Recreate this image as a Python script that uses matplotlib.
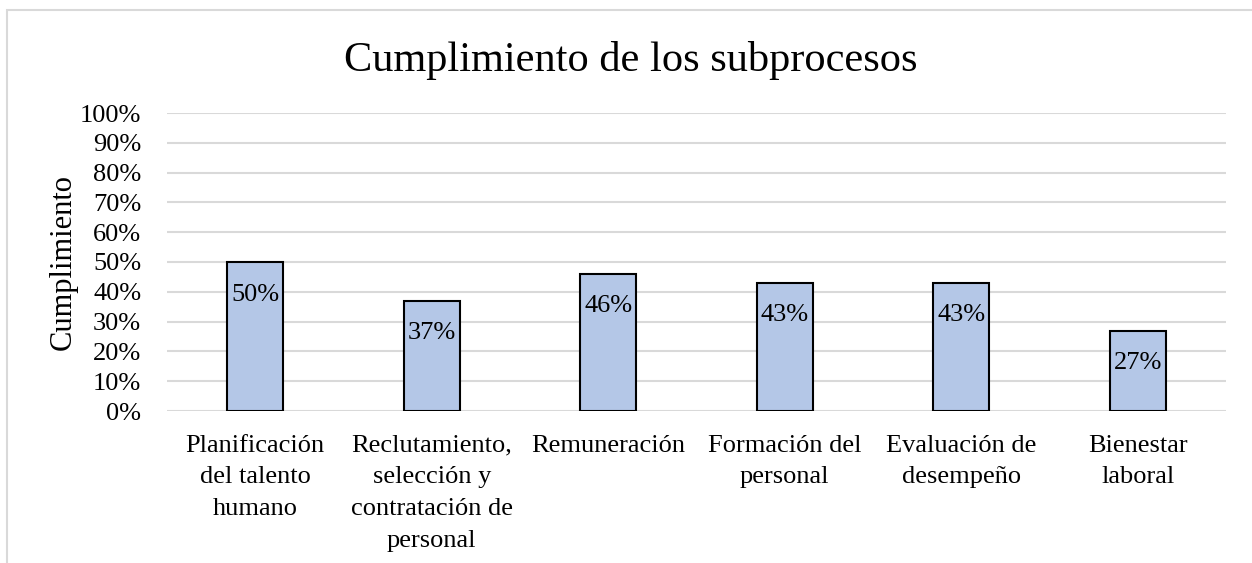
import matplotlib
matplotlib.use("Agg")
import matplotlib.pyplot as plt
from matplotlib.patches import Rectangle
from matplotlib.ticker import MultipleLocator, PercentFormatter

categories = ["Planificación\ndel talento\nhumano",
              "Reclutamiento,\nselección y\ncontratación de\npersonal",
              "Remuneración",
              "Formación del\npersonal",
              "Evaluación de\ndesempeño",
              "Bienestar\nlaboral"]
values = [50, 37, 46, 43, 43, 27]
value_labels = ["50%", "37%", "46%", "43%", "43%", "27%"]
title = "Cumplimiento de los subprocesos"
ylabel = "Cumplimiento"

plt.rcParams['font.family'] = ['Liberation Serif', 'DejaVu Serif']

W, H = 1252, 563
fig = plt.figure(figsize=(W / 100, H / 100), dpi=100)

# outer chart frame
fig.patches.append(Rectangle((7 / W, -0.1), 1.2, (H - 10) / H + 0.1,
                             transform=fig.transFigure, fill=False,
                             edgecolor="#d9d9d9", linewidth=1.5))

left, right = 167, 1226
top, bottom = 113, 411
ax = fig.add_axes([left / W, 1 - bottom / H, (right - left) / W, (bottom - top) / H])

x = list(range(len(categories)))
bars = ax.bar(x, values, width=0.32, color="#b4c7e7", edgecolor="black", linewidth=1.5, zorder=3)
for b, lab in zip(bars, value_labels):
    ax.annotate(lab, (b.get_x() + b.get_width() / 2, b.get_height()),
                xytext=(0, -15.5), textcoords="offset points",
                ha="center", va="top", fontsize=19, zorder=4)

ax.set_xlim(-0.5, len(categories) - 0.5)
ax.set_ylim(0, 100)
ax.yaxis.set_major_locator(MultipleLocator(10))
ax.yaxis.set_major_formatter(PercentFormatter(decimals=0))
ax.grid(axis="y", color="#d9d9d9", linewidth=1.5, zorder=0)
for s in ax.spines.values():
    s.set_visible(False)
ax.tick_params(axis="both", length=0, labelsize=19)
ax.tick_params(axis="y", pad=18.5)
ax.tick_params(axis="x", pad=17)
ax.set_xticks(x)
ax.set_xticklabels(categories, linespacing=1.57, va="top")

fig.text(63 / W, 1 - 262 / H, ylabel, rotation=90, ha="center", va="center", fontsize=22)
fig.text(0.5 + 5 / W, 1 - 60 / H, title, ha="center", va="center", fontsize=30.5)

fig.savefig("out.png", dpi=100)
